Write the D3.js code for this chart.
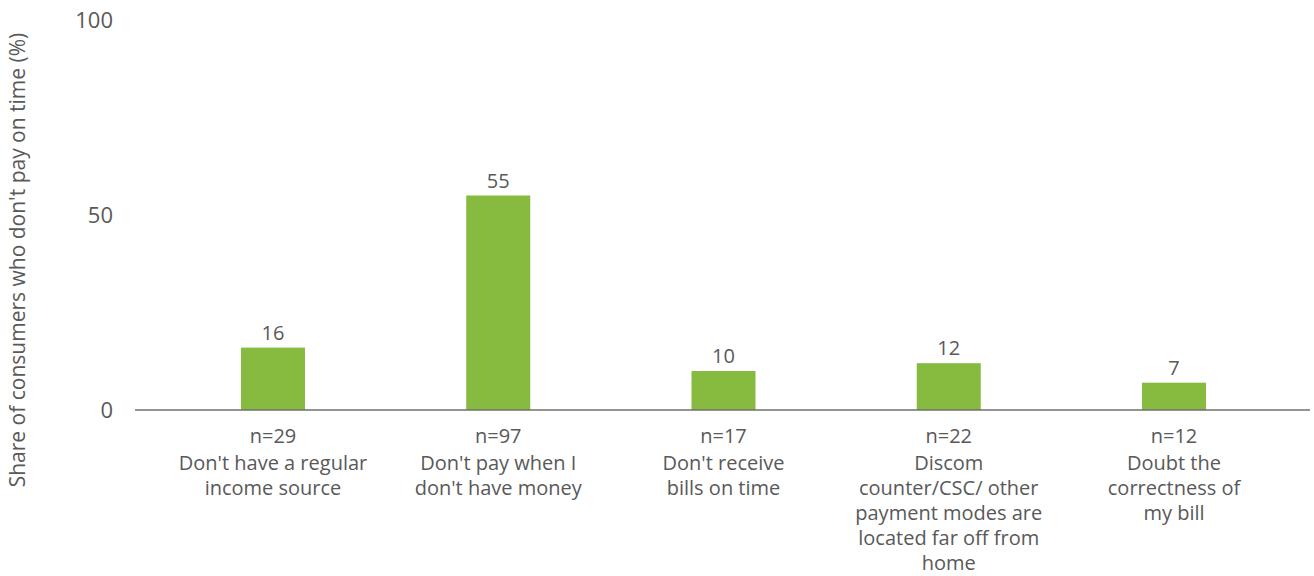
<!DOCTYPE html>
<html>
<head>
<meta charset="utf-8">
<script src="https://cdn.jsdelivr.net/npm/d3@7"></script>
<style>
  body { margin: 0; background: #fff; }
  svg text { font-family: "Open Sans", sans-serif; fill: #595959; }
</style>
</head>
<body>
<div id="chart"></div>
<script>
// chart data
const categories = [
    ["Don't have a regular", "income source"],
    ["Don't pay when I", "don't have money"],
    ["Don't receive", "bills on time"],
    ["Discom", "counter/CSC/ other", "payment modes are", "located far off from", "home"],
    ["Doubt the", "correctness of", "my bill"]
];
const sampleSizes = ["n=29", "n=97", "n=17", "n=22", "n=12"];
const shares = [16, 55, 10, 12, 7];
const yTicks = [0, 50, 100];
const yTitle = "Share of consumers who don't pay on time (%)";

const W = 1314, H = 576;
const keys = sampleSizes.map((d, i) => i);

const svg = d3.select("#chart")
    .append("svg")
    .attr("width", W)
    .attr("height", H);

const x = d3.scalePoint().domain(keys).range([273, 1174]);
const y = d3.scaleLinear().domain([0, 100]).range([410, 20]);
const barW = 64;

// y axis: labels only
const yAxis = svg.append("g")
    .attr("transform", "translate(113,0)")
    .call(d3.axisLeft(y).tickValues(yTicks).tickSize(0).tickPadding(0));
yAxis.select(".domain").remove();
yAxis.selectAll("text")
    .style("font-size", "22px")
    .style("font-family", "'Open Sans', sans-serif")
    .attr("fill", "#595959");

svg.append("text")
    .attr("transform", `translate(25,${260}) rotate(-90)`)
    .attr("text-anchor", "middle")
    .style("font-size", "21px")
    .text(yTitle);

// bars
svg.selectAll(".bar")
    .data(shares)
    .enter()
    .append("rect")
    .attr("class", "bar")
    .attr("x", (d, i) => x(i) - barW / 2)
    .attr("y", d => y(d))
    .attr("width", barW)
    .attr("height", d => y(0) - y(d))
    .attr("fill", "#86BB3F");

// value labels
svg.selectAll(".val")
    .data(shares)
    .enter()
    .append("text")
    .attr("class", "val")
    .attr("x", (d, i) => x(i))
    .attr("y", d => y(d) - 8)
    .attr("text-anchor", "middle")
    .style("font-size", "20px")
    .text(d => d);

// baseline
svg.append("line")
    .attr("x1", 135).attr("x2", 1310)
    .attr("y1", y(0)).attr("y2", y(0))
    .attr("stroke", "#6f6f6f")
    .attr("stroke-width", 1.5);

// category labels
const cat = svg.selectAll(".cat")
    .data(keys)
    .enter()
    .append("text")
    .attr("class", "cat")
    .attr("text-anchor", "middle")
    .style("font-size", "20px");

cat.append("tspan")
    .attr("x", d => x(d))
    .attr("y", 443)
    .text(d => sampleSizes[d]);

cat.each(function(d) {
    d3.select(this).selectAll(".line")
        .data(categories[d])
        .enter()
        .append("tspan")
        .attr("x", x(d))
        .attr("y", (t, j) => 470 + j * 25)
        .text(t => t);
});
</script>
</body>
</html>
